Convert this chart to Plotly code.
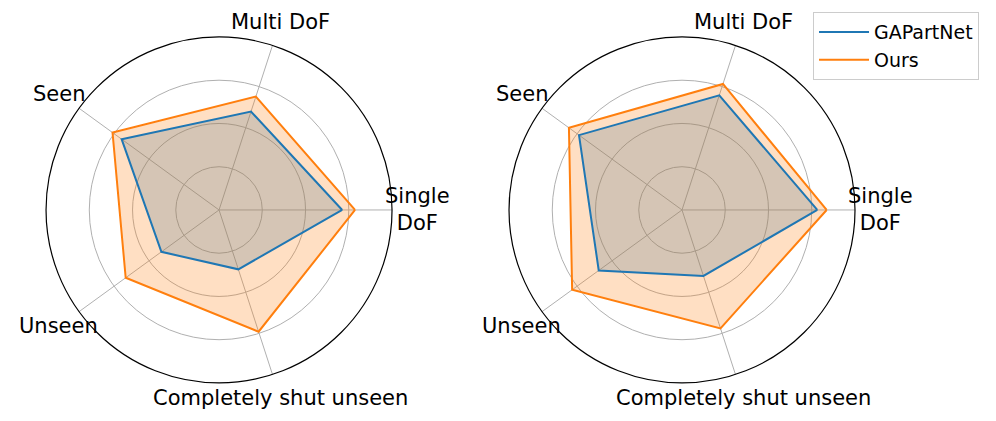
import math
import plotly.graph_objects as go

categories = ['Single<br>DoF', 'Multi DoF', 'Seen', 'Unseen', 'Completely shut unseen']

# left chart
gapartnet_left = [0.712, 0.598, 0.696, 0.412, 0.361]
ours_left = [0.786, 0.689, 0.761, 0.667, 0.740]

# right chart
gapartnet_right = [0.782, 0.697, 0.736, 0.595, 0.401]
ours_right = [0.836, 0.766, 0.808, 0.785, 0.720]

blue = '#1f77b4'
orange = '#ff7f0e'

# page body has an 8px margin, so the figure is sized/placed to compensate
W, H = 988, 413
dom_y = [0.092, 0.930]
dom_left = [0.0385, 0.3887]
dom_right = [0.5071, 0.8573]


def closed(vals):
    return list(vals) + [vals[0]]


theta = closed(categories)

fig = go.Figure()

for polar, gap, ours, show in [('polar', gapartnet_left, ours_left, False),
                               ('polar2', gapartnet_right, ours_right, True)]:
    # shaded areas (no legend entry)
    fig.add_trace(go.Scatterpolar(r=closed(gap), theta=theta, subplot=polar, mode='lines',
                                  fill='toself', fillcolor='rgba(31,119,180,0.25)',
                                  line=dict(width=0), hoverinfo='skip', showlegend=False))
    fig.add_trace(go.Scatterpolar(r=closed(ours), theta=theta, subplot=polar, mode='lines',
                                  fill='toself', fillcolor='rgba(255,127,14,0.25)',
                                  line=dict(width=0), hoverinfo='skip', showlegend=False))
    # outlines
    fig.add_trace(go.Scatterpolar(r=closed(gap), theta=theta, subplot=polar, name='GAPartNet',
                                  mode='lines', line=dict(color=blue, width=2), showlegend=show))
    fig.add_trace(go.Scatterpolar(r=closed(ours), theta=theta, subplot=polar, name='Ours',
                                  mode='lines', line=dict(color=orange, width=2), showlegend=show))

# category labels centred just outside the circle (matplotlib style)
for dom in (dom_left, dom_right):
    cx = (dom[0] + dom[1]) / 2 * W
    cy = (dom_y[0] + dom_y[1]) / 2 * H
    rad = (dom[1] - dom[0]) * W / 2 * 1.145
    for i, cat in enumerate(categories):
        ang = math.radians(i * 360 / len(categories))
        fig.add_annotation(x=(cx + rad * math.cos(ang)) / W, y=(cy + rad * math.sin(ang)) / H,
                           xref='paper', yref='paper', text=cat, showarrow=False,
                           xanchor='center', yanchor='middle', align='center',
                           font=dict(size=21, color='black'))

polar_style = dict(
    bgcolor='white',
    radialaxis=dict(range=[0, 1], tickvals=[0.25, 0.5, 0.75], showticklabels=False,
                    showline=False, ticks='', gridcolor='#b0b0b0', gridwidth=1),
    angularaxis=dict(rotation=0, direction='counterclockwise', ticks='',
                     showticklabels=False, showline=True, linecolor='black', linewidth=1.2,
                     gridcolor='#b0b0b0', gridwidth=1),
)

fig.update_layout(
    width=W, height=H,
    margin=dict(l=0, r=0, t=0, b=0),
    paper_bgcolor='white',
    font=dict(family='DejaVu Sans', color='black'),
    polar=dict(domain=dict(x=dom_left, y=dom_y), **polar_style),
    polar2=dict(domain=dict(x=dom_right, y=dom_y), **polar_style),
    legend=dict(x=0.8148, y=0.99, xanchor='left', yanchor='top',
                bgcolor='white', bordercolor='#cccccc', borderwidth=1,
                font=dict(size=19), itemwidth=50),
)

fig.write_html("out.html")
